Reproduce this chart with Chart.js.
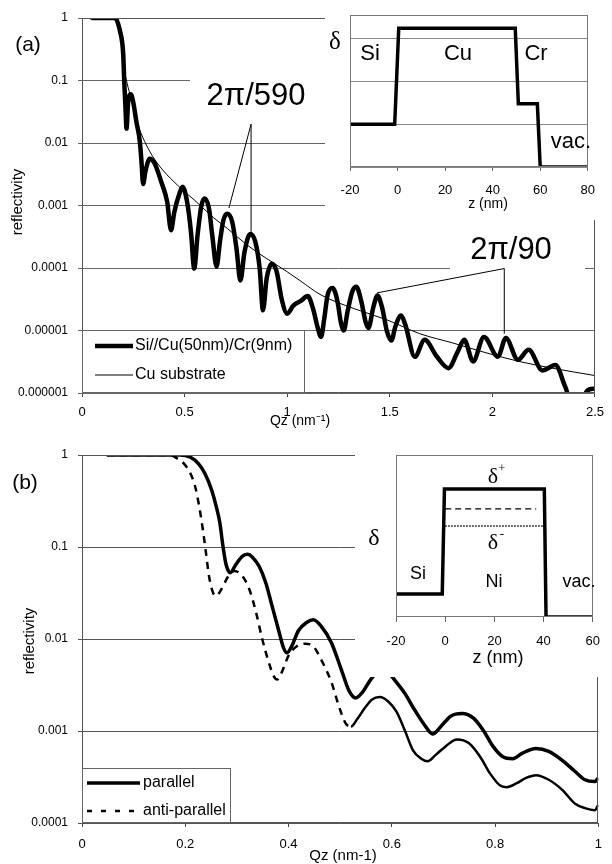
<!DOCTYPE html>
<html><head><meta charset="utf-8">
<script src="https://cdn.jsdelivr.net/npm/chart.js@4/dist/chart.umd.min.js"></script>
<style>
html,body{margin:0;padding:0;background:#fff;}
#wrap{position:relative;width:612px;height:864px;overflow:hidden;background:#fff;}
canvas{position:absolute;display:block;}
</style></head><body>
<div id="wrap">
<canvas id="cA" width="612" height="430" style="left:0;top:0"></canvas>
<canvas id="cB" width="612" height="434" style="left:0;top:430px"></canvas>
<canvas id="iA" width="282" height="220" style="left:325px;top:0"></canvas>
<canvas id="iB" width="257" height="223" style="left:355px;top:454px"></canvas>
</div>
<script>
// ================= DATA =================
// Panel (a): Si//Cu(50nm)/Cr(9nm) film
const qzFilmA = [0.05,0.16,0.185,0.201,0.206,0.212,0.217,0.225,0.238,0.249,0.265,0.282,0.29,0.298,0.309,0.33,0.354,0.386,0.415,0.434,0.45,0.475,0.49,0.512,0.531,0.547,0.563,0.582,0.598,0.619,0.635,0.656,0.672,0.689,0.708,0.732,0.753,0.772,0.792,0.82,0.845,0.866,0.882,0.9,0.925,0.949,0.973,1.0,1.03,1.068,1.1,1.125,1.149,1.165,1.181,1.197,1.221,1.245,1.261,1.276,1.294,1.318,1.337,1.361,1.382,1.396,1.419,1.44,1.463,1.487,1.508,1.527,1.555,1.575,1.622,1.67,1.73,1.786,1.83,1.863,1.906,1.959,2.027,2.066,2.124,2.177,2.244,2.307,2.355,2.38,2.44,2.46,2.49,2.5];
const rFilmA = [1,1,0.62,0.26,0.095,0.036,0.017,0.046,0.060,0.046,0.022,0.0105,0.005,0.0022,0.0035,0.0056,0.0047,0.0024,0.00115,0.0004,0.00079,0.00155,0.002,0.00115,0.00038,9.8e-5,0.00033,0.001,0.0013,0.00089,0.00033,1.05e-4,0.00026,0.00058,0.00074,0.00055,2.04e-4,6.3e-5,1.8e-4,3.5e-4,2.6e-4,9.8e-5,2.1e-5,6.8e-5,1.17e-4,8.7e-5,3.2e-5,1.86e-5,2.5e-5,3.0e-5,3.55e-5,2.3e-5,1.1e-5,7.9e-6,1.58e-5,3.7e-5,4.8e-5,2.95e-5,1.38e-5,1.0e-5,2.0e-5,4.27e-5,5.0e-5,2.95e-5,1.38e-5,1.1e-5,2.3e-5,3.63e-5,2.3e-5,9.5e-6,6.9e-6,1.15e-5,1.74e-5,1.26e-5,3.8e-6,7.1e-6,3.8e-6,2.5e-6,4.5e-6,7.1e-6,3.2e-6,7.9e-6,3.8e-6,7.6e-6,3.4e-6,4.9e-6,2.3e-6,2.8e-6,1.26e-6,8.0e-7,8.0e-7,1.07e-6,1.17e-6,1.17e-6];
// Panel (a): Cu substrate
const qzSubA = [0.05,0.17,0.19,0.205,0.22,0.241,0.26,0.281,0.346,0.483,0.547,0.643,0.708,0.804,0.901,1.0,1.062,1.165,1.326,1.486,1.646,1.808,1.969,2.13,2.291,2.5];
const rSubA  = [1,1,0.5,0.16,0.09,0.049,0.026,0.0162,0.006,0.00186,0.00123,0.00063,0.00043,2.34e-4,1.41e-4,8.7e-5,6.3e-5,3.7e-5,2.24e-5,1.48e-5,8.9e-6,6.3e-6,4.4e-6,3.2e-6,2.5e-6,1.9e-6];
const xTicksA = [0,0.5,1,1.5,2,2.5];
const xTickLabelsA = ['0','0.5','1','1.5','2','2.5'];
const yTickLabelsA = ['1','0.1','0.01','0.001','0.0001','0.00001','0.000001'];
// annotation guide lines in data units (apex, two ends)
const annot590 = [[0.824,0.020],[0.716,9.1e-4],[0.824,3.8e-4]];
const annot90  = [[2.058,9.8e-5],[1.438,4.0e-5],[2.058,8.9e-6]];

// Panel (b): parallel / anti-parallel
const qzParB = [0.048,0.19,0.21,0.225,0.238,0.251,0.26,0.267,0.273,0.279,0.287,0.298,0.311,0.321,0.33,0.343,0.356,0.368,0.381,0.39,0.397,0.406,0.419,0.435,0.448,0.463,0.483,0.502,0.517,0.53,0.543,0.558,0.571,0.582,0.593,0.606,0.625,0.644,0.663,0.679,0.695,0.714,0.736,0.758,0.777,0.796,0.815,0.834,0.853,0.879,0.904,0.93,0.955,0.974,0.993,1.0];
const rParB  = [1,1,0.944,0.81,0.63,0.417,0.275,0.182,0.102,0.0646,0.0525,0.0646,0.0794,0.0832,0.0776,0.0617,0.0407,0.0229,0.0123,0.00813,0.00708,0.00832,0.0123,0.0151,0.0162,0.0138,0.00912,0.00468,0.00275,0.00229,0.00263,0.00355,0.00437,0.0049,0.00437,0.00355,0.00257,0.0017,0.00117,0.00093,0.00112,0.00145,0.00155,0.00138,0.00102,0.00068,0.000525,0.0005,0.000575,0.000646,0.0006,0.00048,0.000363,0.000295,0.000282,0.000309];
const qzAntiB = [0.048,0.171,0.184,0.197,0.21,0.219,0.227,0.234,0.24,0.246,0.254,0.26,0.27,0.283,0.295,0.311,0.324,0.337,0.349,0.362,0.371,0.378,0.387,0.4,0.416,0.432,0.448,0.463,0.483,0.498,0.511,0.521,0.533,0.549,0.561,0.577,0.593,0.609,0.625,0.641,0.657,0.669,0.685,0.704,0.726,0.749,0.771,0.79,0.809,0.822,0.841,0.86,0.879,0.904,0.93,0.955,0.974,0.993,1.0];
const rAntiB  = [1,1,0.92,0.81,0.63,0.457,0.275,0.155,0.087,0.048,0.0316,0.0295,0.0347,0.0479,0.055,0.0479,0.0347,0.0195,0.01,0.0055,0.00398,0.00363,0.00437,0.0066,0.00832,0.0089,0.00832,0.006,0.00339,0.00182,0.0012,0.00112,0.00135,0.00182,0.00219,0.00234,0.00209,0.00162,0.00102,0.000617,0.0005,0.000468,0.00055,0.00068,0.00081,0.00074,0.000525,0.000347,0.000257,0.000245,0.000269,0.000309,0.000331,0.000295,0.000229,0.000162,0.000145,0.000138,0.000158];
const xTicksB = [0,0.2,0.4,0.6,0.8,1];
const xTickLabelsB = ['0','0.2','0.4','0.6','0.8','1'];
const yTickLabelsB = ['1','0.1','0.01','0.001','0.0001'];

// Inset (a): delta profile Si / Cu / Cr / vac
const zInsetA = [-20,-1.2,0.5,49.5,50.8,58.8,60,80];
const dInsetA = [1.0,1.0,3.25,3.25,1.48,1.48,0,0];
const xTicksInsetA = [-20,0,20,40,60,80];
// Inset (b): delta profile Si / Ni / vac
const zInsetB = [-20,-1.2,-0.3,40.3,41,60];
const dInsetB = [1.42,1.42,7.9,7.9,0,0];
const zInsetBDash = [0,37];   const dInsetBDash = [6.67,6.67];
const zInsetBDot  = [0,40];   const dInsetBDot  = [5.62,5.62];
const xTicksInsetB = [-20,0,20,40,60];

// ================= HELPERS =================
const FONT = "'Liberation Sans', Arial, Helvetica, sans-serif";
const SERIF = "'Liberation Serif', 'DejaVu Serif', serif";
Chart.defaults.font.family = FONT;
Chart.defaults.color = '#000';
Chart.defaults.animation = false;
const pts = (xs, ys) => xs.map((x, i) => ({x: x, y: ys[i]}));
const logLabel = (labels) => (v) => {
  const l = labels.find(s => Math.abs(Math.log10(Number(s)) - Math.log10(v)) < 1e-6);
  return l === undefined ? '' : l;
};
function text(c, s, x, y, font, align, rot) {
  c.save(); c.font = font; c.fillStyle = '#000';
  c.textAlign = align || 'center'; c.textBaseline = 'middle';
  c.translate(x, y); if (rot) c.rotate(rot);
  c.fillText(s, 0, 0); c.restore();
}
function frame(c, a, color) {
  c.save(); c.strokeStyle = color; c.lineWidth = 1;
  c.strokeRect(Math.round(a.left) + 0.5, Math.round(a.top) + 0.5,
               Math.round(a.right - a.left) - 1, Math.round(a.bottom - a.top) - 1);
  c.restore();
}
function guide(c, xs, ys, g) {
  c.save(); c.strokeStyle = '#000'; c.lineWidth = 1; c.beginPath();
  const ax = xs.getPixelForValue(g[0][0]), ay = ys.getPixelForValue(g[0][1]);
  for (let k = 1; k < g.length; k++) {
    c.moveTo(ax, ay);
    c.lineTo(xs.getPixelForValue(g[k][0]), ys.getPixelForValue(g[k][1]));
  }
  c.stroke(); c.restore();
}
function legendBox(chart, box, font) {
  const c = chart.ctx;
  c.save();
  c.fillStyle = '#fff'; c.fillRect(box.x, box.y, box.w, box.h);
  c.strokeStyle = '#666'; c.lineWidth = 1;
  c.strokeRect(box.x + 0.5, box.y + 0.5, box.w - 1, box.h - 1);
  chart.data.datasets.forEach((ds, i) => {
    const y = box.rows[i];
    c.beginPath(); c.strokeStyle = ds.borderColor; c.lineWidth = ds.borderWidth;
    c.setLineDash(ds.legendDash || []);
    c.moveTo(box.lx0, y); c.lineTo(box.lx1, y); c.stroke();
    c.setLineDash([]);
    text(c, ds.label, box.tx, y, font, 'left');
  });
  c.restore();
}

// ================= PANEL (a) =================
const overlayA = {
  id: 'overlayA',
  beforeDatasetsDraw(chart) {
    const c = chart.ctx; c.save(); c.fillStyle = '#fff';
    c.fillRect(190, 66, 140, 46);   // text box behind 2π/590
    c.fillRect(450, 230, 135, 40);  // text box behind 2π/90
    c.restore();
  },
  afterDatasetsDraw(chart) {
    const c = chart.ctx, xs = chart.scales.x, ys = chart.scales.y;
    frame(c, chart.chartArea, '#555');
    guide(c, xs, ys, annot590);
    guide(c, xs, ys, annot90);
    text(c, '2π/590', 256, 96, '31px ' + FONT);
    text(c, '2π/90', 511, 250, '31px ' + FONT);
    text(c, '(a)', 28, 45, '21px ' + FONT);
    text(c, 'reflectivity', 18, 202, '15px ' + FONT, 'center', -Math.PI / 2);
    text(c, 'Qz (nm⁻¹)', 300, 421, '14px ' + FONT);
    legendBox(chart, {x: 82, y: 330, w: 223, h: 63, rows: [346, 375], lx0: 95, lx1: 133, tx: 135}, '16px ' + FONT);
  }
};
new Chart(document.getElementById('cA'), {
  type: 'line',
  data: {datasets: [
    {label: 'Si//Cu(50nm)/Cr(9nm)', data: pts(qzFilmA, rFilmA), borderColor: '#000', borderWidth: 4.5,
     pointRadius: 0, cubicInterpolationMode: 'monotone', borderJoinStyle: 'round', borderCapStyle: 'round'},
    {label: 'Cu substrate', data: pts(qzSubA, rSubA), borderColor: '#000', borderWidth: 1,
     pointRadius: 0, cubicInterpolationMode: 'monotone'}
  ]},
  options: {
    responsive: false, animation: false, events: [],
    layout: {padding: {left: 0, top: 18, right: 10, bottom: 0}},
    plugins: {legend: {display: false}, tooltip: {enabled: false}},
    scales: {
      x: {type: 'linear', min: 0, max: 2.5,
          afterBuildTicks: s => { s.ticks = xTicksA.map(v => ({value: v})); },
          ticks: {callback: v => xTickLabelsA[xTicksA.indexOf(v)], font: {size: 13}, padding: 8, maxRotation: 0, autoSkip: false},
          grid: {drawOnChartArea: false, tickLength: 4, color: '#444'}, border: {display: false},
          afterFit: s => { s.height = 37; }},
      y: {type: 'logarithmic', min: 1e-6, max: 1,
          afterBuildTicks: s => { s.ticks = yTickLabelsA.map(l => ({value: Number(l)})); },
          ticks: {callback: logLabel(yTickLabelsA), font: {size: 12}, padding: 10, autoSkip: false},
          grid: {color: '#666', tickLength: 4}, border: {display: false},
          afterFit: s => { s.width = 82; }}
    }
  },
  plugins: [overlayA]
});

// ================= PANEL (b) =================
const overlayB = {
  id: 'overlayB',
  afterDatasetsDraw(chart) {
    const c = chart.ctx;
    frame(c, chart.chartArea, '#555');
    text(c, '(b)', 25, 53, '21px ' + FONT);
    text(c, 'reflectivity', 30, 211, '15px ' + FONT, 'center', -Math.PI / 2);
    text(c, 'Qz (nm-1)', 343, 426, '15px ' + FONT);
    legendBox(chart, {x: 82, y: 338, w: 149, h: 55, rows: [353, 381], lx0: 87, lx1: 140, tx: 143}, '16px ' + FONT);
  }
};
new Chart(document.getElementById('cB'), {
  type: 'line',
  data: {datasets: [
    {label: 'parallel', data: pts(qzParB, rParB), borderColor: '#000', borderWidth: 3.5,
     pointRadius: 0, cubicInterpolationMode: 'monotone', borderJoinStyle: 'round'},
    {label: 'anti-parallel', data: pts(qzAntiB, rAntiB), borderColor: '#000', borderWidth: 2.5,
     pointRadius: 0, cubicInterpolationMode: 'monotone', legendDash: [5, 9],
     segment: {borderDash: ctx => ctx.p0.parsed.x < 0.52 ? [7, 6] : undefined}}
  ]},
  options: {
    responsive: false, animation: false, events: [],
    layout: {padding: {left: 0, top: 25, right: 5, bottom: 0}},
    plugins: {legend: {display: false}, tooltip: {enabled: false}},
    scales: {
      x: {type: 'linear', min: 0, max: 1,
          afterBuildTicks: s => { s.ticks = xTicksB.map(v => ({value: v})); },
          ticks: {callback: v => xTickLabelsB[xTicksB.indexOf(v)], font: {size: 13}, padding: 10, maxRotation: 0, autoSkip: false},
          grid: {drawOnChartArea: false, tickLength: 4, color: '#444'}, border: {display: false},
          afterFit: s => { s.height = 41; }},
      y: {type: 'logarithmic', min: 1e-4, max: 1,
          afterBuildTicks: s => { s.ticks = yTickLabelsB.map(l => ({value: Number(l)})); },
          ticks: {callback: logLabel(yTickLabelsB), font: {size: 12}, padding: 10, autoSkip: false},
          grid: {color: '#555', tickLength: 4}, border: {display: false},
          afterFit: s => { s.width = 82; }}
    }
  },
  plugins: [overlayB]
});

// ================= INSET (a) =================
const bgWhite = {id: 'bgWhite', beforeDraw(chart) {
  const c = chart.ctx; c.save(); c.fillStyle = '#fff'; c.fillRect(0, 0, chart.width, chart.height); c.restore(); }};
const overlayIA = {
  id: 'overlayIA',
  afterDatasetsDraw(chart) {
    const c = chart.ctx;
    frame(c, chart.chartArea, '#777');
    text(c, 'δ', 10, 42, '25px ' + SERIF);
    text(c, 'Si', 45, 54, '22px ' + FONT);
    text(c, 'Cu', 133, 54, '22px ' + FONT);
    text(c, 'Cr', 211, 54, '22px ' + FONT);
    text(c, 'vac.', 246, 142, '22px ' + FONT);
    text(c, 'z (nm)', 163, 204, '14px ' + FONT);
  }
};
new Chart(document.getElementById('iA'), {
  type: 'line',
  data: {datasets: [
    {data: pts(zInsetA, dInsetA), borderColor: '#000', borderWidth: 3.5, pointRadius: 0, tension: 0, borderJoinStyle: 'miter'}
  ]},
  options: {
    responsive: false, animation: false, events: [],
    layout: {padding: {left: 0, top: 15, right: 17, bottom: 0}},
    plugins: {legend: {display: false}, tooltip: {enabled: false}},
    scales: {
      x: {type: 'linear', min: -20, max: 80,
          afterBuildTicks: s => { s.ticks = xTicksInsetA.map(v => ({value: v})); },
          ticks: {callback: v => String(v), font: {size: 13}, padding: 12, maxRotation: 0, autoSkip: false},
          grid: {drawOnChartArea: false, tickLength: 4, color: '#666'}, border: {display: false},
          afterFit: s => { s.height = 53; }},
      y: {type: 'linear', min: 0, max: 3.56,
          ticks: {display: false, stepSize: 1},
          grid: {color: '#888', drawTicks: false}, border: {display: false},
          afterFit: s => { s.width = 25; }}
    }
  },
  plugins: [bgWhite, overlayIA]
});

// ================= INSET (b) =================
const overlayIB = {
  id: 'overlayIB',
  afterDatasetsDraw(chart) {
    const c = chart.ctx;
    frame(c, chart.chartArea, '#777');
    text(c, 'δ', 19, 85, '24px ' + SERIF);
    text(c, 'δ', 138, 23, '22px ' + SERIF);
    text(c, '+', 147, 15, '12px ' + SERIF);
    text(c, 'δ', 138, 89, '22px ' + SERIF);
    text(c, '-', 147, 81, '13px ' + SERIF);
    text(c, 'Si', 63, 120, '18px ' + FONT);
    text(c, 'Ni', 139, 128, '18px ' + FONT);
    text(c, 'vac.', 224, 128, '18px ' + FONT);
    text(c, 'z (nm)', 143, 204, '18px ' + FONT);
  }
};
new Chart(document.getElementById('iB'), {
  type: 'line',
  data: {datasets: [
    {data: pts(zInsetB, dInsetB), borderColor: '#000', borderWidth: 3.5, pointRadius: 0, tension: 0, borderJoinStyle: 'miter'},
    {data: pts(zInsetBDash, dInsetBDash), borderColor: '#000', borderWidth: 1.3, borderDash: [6, 4], pointRadius: 0},
    {data: pts(zInsetBDot, dInsetBDot), borderColor: '#000', borderWidth: 1.5, borderDash: [1.5, 1.5], pointRadius: 0}
  ]},
  options: {
    responsive: false, animation: false, events: [],
    layout: {padding: {left: 0, top: 1, right: 9, bottom: 0}},
    plugins: {legend: {display: false}, tooltip: {enabled: false}},
    scales: {
      x: {type: 'linear', min: -20, max: 60,
          afterBuildTicks: s => { s.ticks = xTicksInsetB.map(v => ({value: v})); },
          ticks: {callback: v => String(v), font: {size: 13}, padding: 12, maxRotation: 0, autoSkip: false},
          grid: {drawOnChartArea: false, tickLength: 5, color: '#666'}, border: {display: false},
          afterFit: s => { s.height = 60; }},
      y: {type: 'linear', min: 0, max: 10,
          ticks: {display: false},
          grid: {display: false}, border: {display: false},
          afterFit: s => { s.width = 41; }}
    }
  },
  plugins: [bgWhite, overlayIB]
});
</script>
</body></html>
